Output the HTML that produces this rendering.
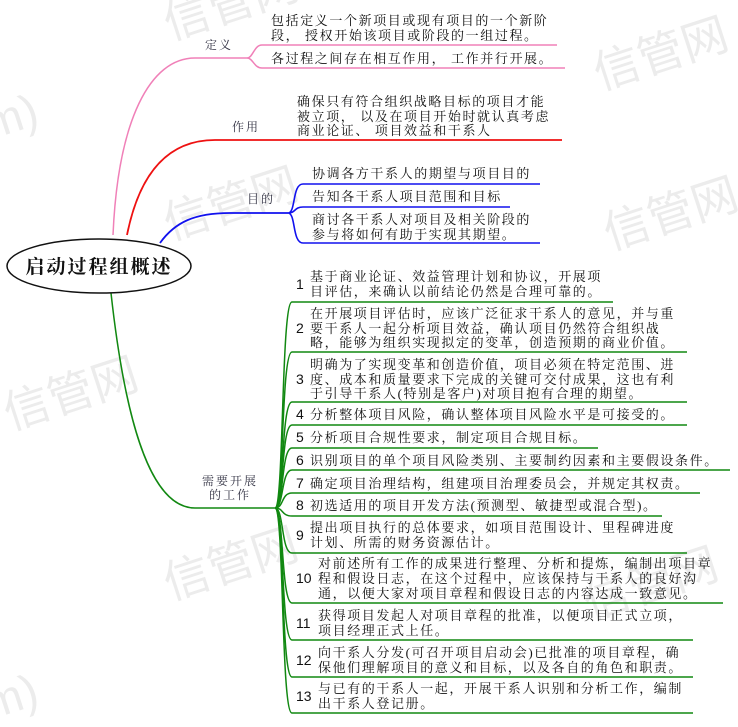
<!DOCTYPE html>
<html><head><meta charset="utf-8"><style>
html,body{margin:0;padding:0;background:#fff;width:738px;height:727px;overflow:hidden}
svg text{font-family:"Liberation Serif","Noto Serif CJK SC","Noto Sans CJK SC",serif;}
.t{font-size:13px;letter-spacing:1.6px;fill:#111}
.n{font-family:"Liberation Sans",sans-serif !important;font-size:14px;fill:#111}
.l{font-size:12px;letter-spacing:2px;fill:#334}
.w{font-family:"Liberation Sans","Noto Sans CJK SC",sans-serif !important;font-size:46px;fill:#ececec}
</style></head><body>
<svg width="738" height="727" viewBox="0 0 738 727" xmlns="http://www.w3.org/2000/svg">
<!-- watermarks -->
<g>
<text class="w" x="170" y="40" transform="rotate(-18 170 40)">信管网</text>
<text class="w" x="600" y="90" transform="rotate(-18 600 90)">信管网</text>
<text class="w" x="170" y="240" transform="rotate(-18 170 240)">信管网</text>
<text class="w" x="610" y="250" transform="rotate(-18 610 250)">信管网</text>
<text class="w" x="10" y="430" transform="rotate(-18 10 430)">信管网</text>
<text class="w" x="170" y="600" transform="rotate(-18 170 600)">信管网</text>
<text class="w" x="590" y="620" transform="rotate(-18 590 620)">信管网</text>
<text class="w" x="-10" y="140" transform="rotate(-18 -10 140)">m)</text>
<text class="w" x="-10" y="720" transform="rotate(-18 -10 720)">m)</text>
</g>

<!-- pink 定义 -->
<path d="M113,235 C118,120 150,58 195,58 L247,58" fill="none" stroke="#f080b8" stroke-width="1.5"/>
<path d="M247,58 C253,58 254,45 262,45 L557,45 M247,58 C253,58 254,68 262,68 L565,68" fill="none" stroke="#f080b8" stroke-width="1.5"/>
<text class="l" x="205" y="49">定义</text>
<text class="t" x="271" y="25">包括定义一个新项目或现有项目的一个新阶</text>
<text class="t" x="271" y="40">段，  授权开始该项目或阶段的一组过程。</text>
<text class="t" x="271" y="63">各过程之间存在相互作用，  工作并行开展。</text>

<!-- red 作用 -->
<path d="M127,235 C140,170 170,140 215,140 L562,140" fill="none" stroke="#ee1111" stroke-width="1.8"/>
<text class="l" x="232" y="131">作用</text>
<text class="t" x="297" y="106">确保只有符合组织战略目标的项目才能</text>
<text class="t" x="297" y="121">被立项，  以及在项目开始时就认真考虑</text>
<text class="t" x="297" y="135">商业论证、  项目效益和干系人</text>

<!-- blue 目的 -->
<path d="M160,243 C175,222 195,213 230,213 L288,213" fill="none" stroke="#1111ee" stroke-width="1.8"/>
<path d="M288,213 C296,213 292,184 303,184 L540,184 M288,213 C296,213 294,207 303,207 L510,207 M288,213 C296,213 292,243 303,243 L540,243" fill="none" stroke="#1111ee" stroke-width="1.6"/>
<text class="l" x="247" y="203">目的</text>
<text class="t" x="312" y="178">协调各方干系人的期望与项目目的</text>
<text class="t" x="312" y="201">告知各干系人项目范围和目标</text>
<text class="t" x="312" y="224">商讨各干系人对项目及相关阶段的</text>
<text class="t" x="312" y="239">参与将如何有助于实现其期望。</text>

<!-- green 需要开展的工作 -->
<path d="M111,293 C125,420 150,508 195,508 L275,508" fill="none" stroke="#118811" stroke-width="1.5"/>
<g fill="none" stroke="#118811" stroke-width="1.5">
<path d="M275,508 C284,508 281,302 292,302 L613,302"/>
<path d="M275,508 C284,508 281,352 292,352 L687,352"/>
<path d="M275,508 C284,508 281,402 292,402 L687,402"/>
<path d="M275,508 C284,508 281,425 292,425 L687,425"/>
<path d="M275,508 C284,508 281,448 292,448 L598,448"/>
<path d="M275,508 C284,508 281,470 292,470 L730,470"/>
<path d="M275,508 C284,508 281,493 292,493 L700,493"/>
<path d="M275,508 C284,508 281,516 292,516 L662,516"/>
<path d="M275,508 C284,508 281,553 292,553 L687,553"/>
<path d="M275,508 C284,508 281,603 292,603 L723,603"/>
<path d="M275,508 C284,508 281,640 292,640 L693,640"/>
<path d="M275,508 C284,508 281,677 292,677 L693,677"/>
<path d="M275,508 C284,508 281,713 292,713 L693,713"/>
</g>
<text class="l" x="202" y="485">需要开展</text>
<text class="l" x="209" y="499">的工作</text>

<text class="n" x="296" y="289">1</text>
<text class="t" x="310" y="281">基于商业论证、效益管理计划和协议，开展项</text>
<text class="t" x="310" y="296">目评估，来确认以前结论仍然是合理可靠的。</text>

<text class="n" x="296" y="333">2</text>
<text class="t" x="310" y="318">在开展项目评估时，应该广泛征求干系人的意见，并与重</text>
<text class="t" x="310" y="333">要干系人一起分析项目效益，确认项目仍然符合组织战</text>
<text class="t" x="310" y="347">略，能够为组织实现拟定的变革，创造预期的商业价值。</text>

<text class="n" x="296" y="384">3</text>
<text class="t" x="310" y="369">明确为了实现变革和创造价值，项目必须在特定范围、进</text>
<text class="t" x="310" y="384">度、成本和质量要求下完成的关键可交付成果，这也有利</text>
<text class="t" x="310" y="398">于引导干系人(特别是客户)对项目抱有合理的期望。</text>

<text class="n" x="296" y="419">4</text>
<text class="t" x="310" y="419">分析整体项目风险，确认整体项目风险水平是可接受的。</text>
<text class="n" x="296" y="442">5</text>
<text class="t" x="310" y="442">分析项目合规性要求，制定项目合规目标。</text>
<text class="n" x="296" y="465">6</text>
<text class="t" x="310" y="465">识别项目的单个项目风险类别、主要制约因素和主要假设条件。</text>
<text class="n" x="296" y="488">7</text>
<text class="t" x="310" y="488">确定项目治理结构，组建项目治理委员会，并规定其权责。</text>
<text class="n" x="296" y="510">8</text>
<text class="t" x="310" y="510">初选适用的项目开发方法(预测型、敏捷型或混合型)。</text>

<text class="n" x="296" y="540">9</text>
<text class="t" x="310" y="532">提出项目执行的总体要求，如项目范围设计、里程碑进度</text>
<text class="t" x="310" y="547">计划、所需的财务资源估计。</text>

<text class="n" x="296" y="583">10</text>
<text class="t" x="318" y="568">对前述所有工作的成果进行整理、分析和提炼，编制出项目章</text>
<text class="t" x="318" y="583">程和假设日志，在这个过程中，应该保持与干系人的良好沟</text>
<text class="t" x="318" y="598">通，以便大家对项目章程和假设日志的内容达成一致意见。</text>

<text class="n" x="296" y="628">11</text>
<text class="t" x="318" y="620">获得项目发起人对项目章程的批准，以便项目正式立项，</text>
<text class="t" x="318" y="635">项目经理正式上任。</text>

<text class="n" x="296" y="665">12</text>
<text class="t" x="318" y="657">向干系人分发(可召开项目启动会)已批准的项目章程，确</text>
<text class="t" x="318" y="672">保他们理解项目的意义和目标，以及各自的角色和职责。</text>

<text class="n" x="296" y="701">13</text>
<text class="t" x="318" y="693">与已有的干系人一起，开展干系人识别和分析工作，编制</text>
<text class="t" x="318" y="708">出干系人登记册。</text>

<!-- central ellipse -->
<ellipse cx="99" cy="266" rx="92" ry="27" fill="#fff" stroke="#111" stroke-width="1.5"/>
<text x="99" y="273" text-anchor="middle" style="font-size:19px;font-weight:bold;letter-spacing:2px;fill:#111">启动过程组概述</text>
</svg>
</body></html>
